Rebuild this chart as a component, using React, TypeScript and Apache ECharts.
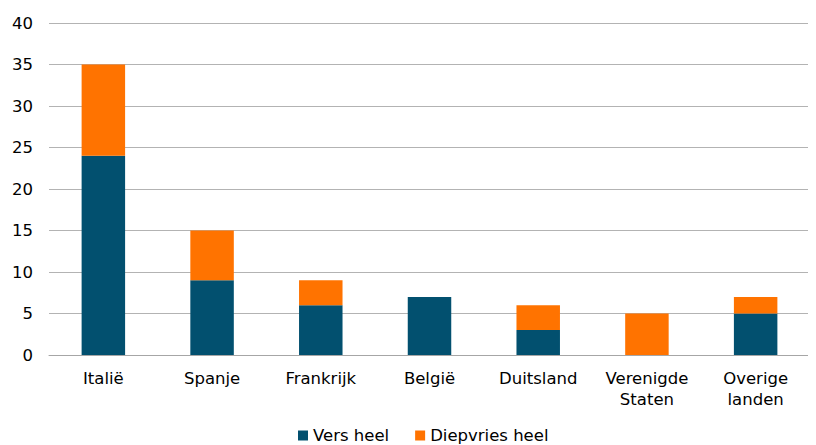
import React, { useEffect, useRef } from "react";
import * as echarts from "echarts";

const categories = ["Italië", "Spanje", "Frankrijk", "België", "Duitsland", "Verenigde\nStaten", "Overige\nlanden"];
const versHeel = [24, 9, 6, 7, 3, 0, 5];
const diepvriesHeel = [11, 6, 3, 0, 3, 5, 2];
const yTicks = { min: 0, max: 40, interval: 5 };

const FONT = "DejaVu Sans";
const FS = 16.5;

export default function App() {
  const ref = useRef<HTMLDivElement>(null);
  useEffect(() => {
    const chart = echarts.init(ref.current!, null, { renderer: "svg" });
    chart.setOption({
      animation: false,
      textStyle: { fontFamily: FONT },
      grid: { left: 49, right: 6, top: 23, bottom: 90, containLabel: false },
      legend: {
        top: 427,
        left: 298,
        padding: 0,
        itemWidth: 10,
        itemHeight: 10,
        itemGap: 26,
        icon: "rect",
        textStyle: { fontFamily: FONT, fontSize: FS, color: "#000", lineHeight: 17 },
        data: ["Vers heel", "Diepvries heel"],
      },
      xAxis: {
        type: "category",
        data: categories,
        axisTick: { show: false },
        axisLine: { lineStyle: { color: "#a6a6a6", width: 1 } },
        axisLabel: { fontFamily: FONT, fontSize: FS, color: "#000", margin: 13, lineHeight: 21, interval: 0 },
      },
      yAxis: {
        type: "value",
        min: yTicks.min,
        max: yTicks.max,
        interval: yTicks.interval,
        axisLine: { show: false },
        axisTick: { show: false },
        splitLine: { lineStyle: { color: "#b3b3b3", width: 1 } },
        axisLabel: { fontFamily: FONT, fontSize: FS, color: "#000", margin: 16 },
      },
      series: [
        {
          name: "Vers heel",
          type: "bar",
          stack: "total",
          data: versHeel,
          barWidth: "40%",
          itemStyle: { color: "#02506f" },
        },
        {
          name: "Diepvries heel",
          type: "bar",
          stack: "total",
          data: diepvriesHeel,
          barWidth: "40%",
          itemStyle: { color: "#ff7300" },
        },
      ],
    });
    return () => chart.dispose();
  }, []);
  return <div ref={ref} style={{ width: 816, height: 445, margin: "-8px 0 0 -8px" }} />;
}
